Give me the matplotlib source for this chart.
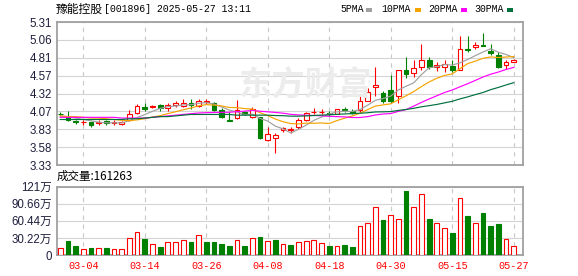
import numpy as np
import pandas as pd
import matplotlib
matplotlib.use("Agg")
import matplotlib.pyplot as plt
from matplotlib.patches import Rectangle

# daily bars 2025-02-27 .. 2025-05-27
opens = [4.04, 3.99, 3.94, 3.92, 3.92, 3.91, 3.94, 3.91, 3.90, 3.96,
         4.05, 4.13, 4.13, 4.16, 4.12, 4.16, 4.15, 4.19, 4.15, 4.20,
         4.19, 4.09, 3.95, 3.98, 4.07, 4.00, 3.99, 3.67, 3.70, 3.81,
         3.81, 3.85, 3.96, 4.06, 4.06, 4.05, 4.04, 4.10, 4.08, 4.09,
         4.22, 4.41, 4.33, 4.37, 4.28, 4.65, 4.60, 4.69, 4.79, 4.69,
         4.69, 4.70, 4.65, 4.94, 4.97, 4.99, 4.91, 4.85, 4.71, 4.75]
highs = [4.06, 4.08, 3.96, 3.95, 3.93, 3.95, 3.96, 3.95, 3.94, 4.09,
         4.18, 4.19, 4.16, 4.17, 4.19, 4.21, 4.24, 4.24, 4.24, 4.24,
         4.20, 4.12, 4.07, 4.23, 4.08, 4.13, 4.00, 3.85, 3.78, 3.86,
         3.85, 3.98, 4.07, 4.12, 4.10, 4.08, 4.11, 4.14, 4.10, 4.32,
         4.39, 4.69, 4.35, 4.58, 4.65, 4.82, 4.79, 5.01, 4.83, 4.75,
         4.79, 4.78, 5.11, 5.12, 5.04, 5.16, 5.00, 4.89, 4.79, 4.80]
lows = [4.01, 3.94, 3.90, 3.89, 3.86, 3.89, 3.89, 3.89, 3.88, 3.94,
        4.04, 4.08, 4.12, 4.08, 4.08, 4.14, 4.14, 4.11, 4.13, 4.17,
        4.08, 3.98, 3.94, 3.97, 4.02, 3.98, 3.69, 3.66, 3.50, 3.79,
        3.77, 3.83, 3.94, 4.03, 4.03, 4.01, 4.03, 4.07, 4.03, 4.07,
        4.21, 4.28, 4.19, 4.19, 4.19, 4.53, 4.55, 4.64, 4.66, 4.63,
        4.62, 4.62, 4.64, 4.90, 4.94, 4.98, 4.86, 4.67, 4.66, 4.75]
closes = [4.03, 3.95, 3.92, 3.93, 3.88, 3.93, 3.91, 3.92, 3.92, 4.04,
          4.15, 4.11, 4.15, 4.12, 4.16, 4.19, 4.19, 4.16, 4.22, 4.21,
          4.09, 3.99, 3.94, 4.09, 4.03, 4.11, 3.70, 3.76, 3.74, 3.84,
          3.83, 3.95, 4.05, 4.07, 4.07, 4.04, 4.10, 4.09, 4.05, 4.21,
          4.34, 4.44, 4.21, 4.22, 4.64, 4.59, 4.68, 4.78, 4.69, 4.72,
          4.73, 4.65, 4.93, 4.92, 4.99, 4.98, 4.88, 4.69, 4.76, 4.78]
# volume in 万
volumes = [11.9, 24.8, 15.9, 10.0, 11.9, 11.9, 11.9, 10.0, 10.0, 29.5,
           40.2, 28.3, 18.9, 14.2, 22.4, 22.4, 26.0, 23.0, 34.8, 23.0,
           23.0, 19.5, 15.9, 26.0, 15.9, 29.5, 31.9, 24.8, 26.6, 19.5,
           17.7, 23.0, 24.8, 26.6, 20.7, 15.9, 15.9, 17.7, 14.2, 51.4,
           56.7, 84.5, 62.0, 70.9, 63.2, 113.4, 84.5, 108.0, 63.8, 56.7,
           47.8, 39.5, 100.4, 69.1, 56.7, 75.0, 51.4, 54.9, 28.3, 16.1263]

# MA values before the window is full (history off the chart)
ma5_head = [4.01, 4.00, 3.98, 3.96]
ma10_head = [4.01, 4.00, 4.00, 3.99, 3.98, 3.98, 3.97, 3.96, 3.95]
ma20_head = [3.99, 3.99, 3.99, 3.99, 3.99, 3.99, 3.99, 3.99, 3.98, 3.98,
             3.98, 3.98, 3.99, 4.00, 4.01, 4.02, 4.03, 4.04, 4.05]
ma30_head = [3.96, 3.96, 3.96, 3.96, 3.96, 3.96, 3.96, 3.96, 3.96, 3.97,
             3.97, 3.98, 3.99, 4.00, 4.00, 4.01, 4.02, 4.03, 4.03, 4.03,
             4.03, 4.03, 4.03, 4.02, 4.02, 4.02, 4.02, 4.02, 4.015]

date_idx = [3, 11, 19, 27, 35, 43, 51, 59]
date_labels = ["03-04", "03-14", "03-26", "04-08", "04-18", "04-30", "05-15", "05-27"]
price_ticks = [3.33, 3.5775, 3.825, 4.0725, 4.32, 4.5675, 4.815, 5.0625, 5.31]
price_labels = ["3.33", "3.58", "3.83", "4.07", "4.32", "4.57", "4.81", "5.06", "5.31"]
vol_ticks = [0, 30.22, 60.44, 90.66, 120.88]
vol_labels = ["0", "30.22万", "60.44万", "90.66万", "121万"]

RED = "#ff0000"
GREEN = "#008000"
ma_colors = ["#a0a0a0", "#f5a300", "#ff00ff", "#00703c"]
FRAME = "#a0a0a0"
GRID = "#d4d4d4"
W, H = 578, 276

o = np.array(opens); h = np.array(highs); l = np.array(lows); c = np.array(closes)
v = np.array(volumes)
n = len(c)
x = np.arange(n)

def ma(period, head):
    m = pd.Series(c).rolling(period).mean().to_numpy()
    m[:len(head)] = head
    return m

mas = [ma(5, ma5_head), ma(10, ma10_head), ma(20, ma20_head), ma(30, ma30_head)]

fig = plt.figure(figsize=(W / 100, H / 100), dpi=100)
ax = fig.add_axes([57 / W, 1 - 165 / H, 465.6 / W, 143 / H])
axv = fig.add_axes([57 / W, 1 - 255 / H, 465.6 / W, 68.3 / H])

xlim = (-0.42, 60.16)
for a in (ax, axv):
    a.set_xlim(*xlim)
    for s in a.spines.values():
        s.set_color(FRAME)
        s.set_linewidth(1.3)
    a.tick_params(length=0, pad=3.5)
    for xi in date_idx:
        a.axvline(xi, color="#c8c8c8", lw=0.8, ls=(0, (4, 4)), zorder=0)

tick_font = dict(family=["Liberation Sans", "Noto Sans CJK SC"], size=8.3)

# price panel
ax.set_ylim(price_ticks[0], price_ticks[-1])
ax.set_yticks(price_ticks)
ax.set_yticklabels(price_labels, color="#1e1e3c", **tick_font)
ax.set_xticks([])
ax.yaxis.grid(True, color=GRID, lw=0.8, zorder=0)
ax.set_axisbelow(True)

up = c >= o
cols = [RED if u else GREEN for u in up]
faces = ["white" if u else GREEN for u in up]
ax.vlines(x, l, h, colors=cols, lw=0.8, zorder=2)
body_b = np.minimum(o, c)
body_h = np.maximum(np.abs(c - o), 0.01)
ax.bar(x, body_h, bottom=body_b, width=0.62, facecolor=faces,
       edgecolor=cols, lw=0.8, zorder=3)
for m, col in zip(mas, ma_colors):
    ax.plot(x, m, color=col, lw=0.85, zorder=4)

# volume panel
vol_up = np.concatenate([[True], c[1:] >= c[:-1]])
vcols = [RED if u else GREEN for u in vol_up]
vfaces = ["white" if u else GREEN for u in vol_up]
axv.set_ylim(0, vol_ticks[-1])
axv.set_yticks(vol_ticks)
axv.set_yticklabels(vol_labels, color="#1e1e3c", **tick_font)
axv.yaxis.grid(True, color=GRID, lw=0.8, zorder=0)
axv.set_axisbelow(True)
axv.bar(x, v, width=0.62, facecolor=vfaces, edgecolor=vcols, lw=0.8, zorder=3)
axv.set_xticks(date_idx)
axv.set_xticklabels(date_labels, color=RED, family="Liberation Mono", size=7.3)
axv.tick_params(axis="x", pad=4.5)

# watermark
fig.text(305 / W, 1 - 86 / H, "东方财富", family=["Noto Sans CJK SC"], size=24,
         weight="bold", color="#ececec", ha="center", va="center", zorder=1)

# header
fig.text(56 / W, 1 - 9.5 / H, "豫能控股", family=["Noto Sans CJK SC"], size=8.5,
         va="center", color="black")
fig.text(104 / W, 1 - 9.5 / H, "[001896] 2025-05-27 13:11", family=["Liberation Mono"],
         size=7.15, va="center", color="black")
legend = [("5PMA", 340, 366), ("10PMA", 381, 415), ("20PMA", 428, 461), ("30PMA", 474, 507)]
for (name, tx, sx), col in zip(legend, ma_colors):
    fig.text(tx / W, 1 - 9.5 / H, name, family=["Liberation Mono"], size=7.15,
             va="center", color="black")
    fig.add_artist(Rectangle((sx / W, 1 - 12 / H), 6 / W, 4.5 / H,
                             transform=fig.transFigure, color=col, lw=0))

fig.text(57 / W, 1 - 176 / H, "成交量:161263", family=["Noto Sans CJK SC"], size=8.3,
         va="center", color="black")

fig.savefig("out.png", dpi=100, facecolor="white")
